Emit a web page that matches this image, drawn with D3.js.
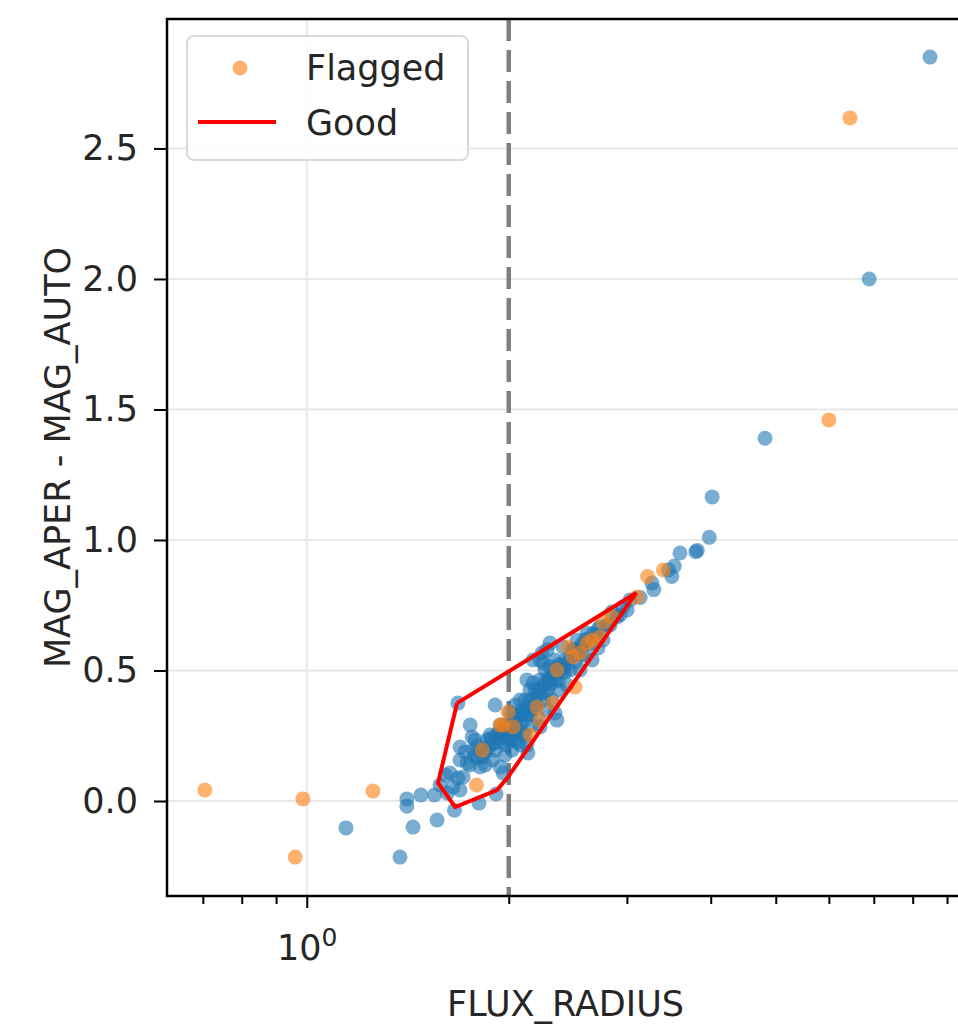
<!DOCTYPE html>
<html>
<head>
<meta charset="utf-8">
<script src="https://cdn.jsdelivr.net/npm/d3@7"></script>
<style>
  body { margin: 0; background: #fff; }
  svg text { font-family: "DejaVu Sans", sans-serif; fill: #262626; }
</style>
</head>
<body>
<div id="chartDiv"></div>
<script>
// FLUX_RADIUS, MAG_APER - MAG_AUTO for unflagged sources
var goodPoints = [
  [8.49,2.85],[6.89,2.00],[4.82,1.39],[4.02,1.165],[3.98,1.01],[3.82,0.96],[3.80,0.955],
  [3.60,0.95],[3.53,0.90],[3.46,0.885],[3.50,0.86],[3.27,0.835],[3.29,0.81],[3.14,0.78],
  [1.144,-0.103],[1.377,-0.215],[1.44,-0.10],[1.564,-0.073],[1.41,0.008],[1.41,-0.02],
  [1.48,0.023],[1.55,0.023],[1.62,0.03],[1.66,-0.035],[1.806,-0.008],[1.915,0.027],
  [1.58,0.061],[1.608,0.100],[1.635,0.107],[1.652,0.054],[1.692,0.042],[1.68,0.088],
  [1.71,0.092],[1.734,0.146],[1.692,0.157],[1.692,0.207],[1.68,0.375],[1.752,0.291],
  [1.764,0.245],[1.77,0.195],[1.801,0.165],[1.813,0.130],[1.845,0.188],[1.857,0.234],
  [1.876,0.215],[1.889,0.157],[1.909,0.195],[1.909,0.368],[1.922,0.253],[1.942,0.130],
  [1.942,0.226],[1.962,0.261],[1.962,0.107],[1.975,0.176],[1.982,0.215],
  [2.009,0.284],[2.009,0.234],[2.023,0.195],[2.03,0.253],[2.044,0.310],[2.058,0.322],
  [2.065,0.226],[2.079,0.272],[2.093,0.349],[2.10,0.261],[2.115,0.387],[2.115,0.310],
  [2.129,0.464],[2.129,0.215],[2.136,0.184],[2.151,0.330],[2.151,0.425],[2.166,0.291],
  [2.174,0.452],[2.174,0.540],[2.189,0.368],[2.204,0.406],[2.212,0.318],[2.227,0.540],
  [2.227,0.464],[2.227,0.284],[2.242,0.567],[2.25,0.529],[2.25,0.387],[2.265,0.452],
  [2.281,0.579],[2.281,0.349],[2.289,0.425],[2.304,0.605],[2.304,0.513],[2.32,0.387],
  [2.344,0.337],[2.344,0.464],[2.36,0.310],[2.369,0.521],[2.385,0.425],
  [2.401,0.494],[2.41,0.590],[2.426,0.540],[2.443,0.444],[2.468,0.502],[2.485,0.579],
  [2.511,0.533],[2.528,0.617],[2.555,0.502],[2.572,0.586],[2.598,0.559],[2.617,0.644],
  [2.644,0.605],[2.662,0.540],[2.689,0.636],[2.717,0.586],[2.736,0.667],[2.764,0.617],
  [2.802,0.674],[2.831,0.674],[2.85,0.724],[2.90,0.705],[2.93,0.713],[2.961,0.743],
  [3.002,0.732],[3.032,0.770],
  [2.044,0.368],[2.079,0.330],[1.975,0.291],[1.813,0.195],[1.876,0.253],[1.942,0.291],
  [2.009,0.341],[2.079,0.387],[2.151,0.387],[2.189,0.425],[2.265,0.502],[2.304,0.464],
  [2.344,0.540],[2.385,0.502],[2.426,0.494],[2.511,0.579],[2.555,0.559],[2.598,0.617],
  [2.079,0.215],[2.115,0.253],[2.044,0.234],[1.845,0.138],[1.752,0.138],[1.782,0.234],
  [1.722,0.188],
  [1.78,0.17],[1.80,0.21],[1.83,0.17],[1.86,0.20],[1.88,0.24],[1.90,0.22],[1.93,0.26],
  [1.95,0.24],[1.97,0.27],[1.99,0.26],[2.01,0.30],[2.03,0.29],[2.05,0.27],[2.06,0.33],
  [2.08,0.30],[2.10,0.34],[2.12,0.33],[2.14,0.36],[2.16,0.35],[2.18,0.39],[2.20,0.37],
  [2.21,0.43],[2.23,0.41],[2.25,0.44],[2.27,0.42],[2.29,0.47],[2.31,0.45],[2.33,0.49],
  [2.35,0.48],[2.37,0.46],[2.39,0.52],[2.42,0.51],[2.45,0.53],[2.47,0.55],[2.50,0.56],
  [2.53,0.58],[2.57,0.60],[2.62,0.62],[2.67,0.64],[2.72,0.66]
];

var flaggedPoints = [
  [6.45,2.617],[6.0,1.46],[0.705,0.042],[0.987,0.008],[0.961,-0.215],[1.255,0.038],
  [1.79,0.061],[1.826,0.195],[1.962,0.291],[1.995,0.341],[2.03,0.284],[1.942,0.291],
  [2.151,0.253],[2.204,0.360],[2.328,0.375],[2.227,0.310],[2.36,0.502],[2.452,0.590],
  [2.494,0.552],[2.617,0.605],[2.662,0.617],[2.736,0.628],[2.764,0.686],[2.85,0.705],
  [2.555,0.567],[2.511,0.437],[3.105,0.782],[3.22,0.86],[3.40,0.885]
];

// "Good" selection region
var goodHull = [
  [1.675,0.375],[1.569,0.069],[1.664,-0.023],[1.921,0.042],[1.995,0.092],[3.097,0.797],[1.675,0.375]
];

var yTicks = [0.0, 0.5, 1.0, 1.5, 2.0, 2.5];
var xMajor = [1];
var xMinor = [0.7, 0.8, 0.9, 2, 3, 4, 5, 6, 7, 8, 9];
var radiusCut = 2;

var W = 958, H = 1027;
var pLeft = 167, pTop = 19, pRight = 964, pBottom = 896;

var x = d3.scaleLog().domain([0.619, 9.54]).range([pLeft, pRight]);
var y = d3.scaleLinear().domain([-0.364, 2.996]).range([pBottom, pTop]);

var svg = d3.select("#chartDiv").append("svg")
  .attr("width", W).attr("height", H);

svg.append("defs").append("clipPath").attr("id", "plotClip")
  .append("rect").attr("x", pLeft).attr("y", pTop)
  .attr("width", pRight - pLeft).attr("height", pBottom - pTop);

var plot = svg.append("g").attr("clip-path", "url(#plotClip)");

// grid
plot.selectAll(".hgrid").data(yTicks).enter().append("line")
  .attr("x1", pLeft).attr("x2", pRight)
  .attr("y1", function(d) { return y(d); }).attr("y2", function(d) { return y(d); })
  .attr("stroke", "#e8e8e8").attr("stroke-width", 2);
plot.selectAll(".vgrid").data(xMajor).enter().append("line")
  .attr("y1", pTop).attr("y2", pBottom)
  .attr("x1", function(d) { return x(d); }).attr("x2", function(d) { return x(d); })
  .attr("stroke", "#e8e8e8").attr("stroke-width", 2);

// dashed cut
plot.append("line")
  .attr("x1", x(radiusCut)).attr("x2", x(radiusCut))
  .attr("y1", pTop).attr("y2", pBottom)
  .attr("stroke", "#808080").attr("stroke-width", 4.5)
  .attr("stroke-dasharray", "22,9");

plot.selectAll(".good").data(goodPoints).enter().append("circle")
  .attr("cx", function(d) { return x(d[0]); })
  .attr("cy", function(d) { return y(d[1]); })
  .attr("r", 7.5).attr("fill", "#1f77b4").attr("fill-opacity", 0.6);

plot.selectAll(".flag").data(flaggedPoints).enter().append("circle")
  .attr("cx", function(d) { return x(d[0]); })
  .attr("cy", function(d) { return y(d[1]); })
  .attr("r", 7.5).attr("fill", "#ff7f0e").attr("fill-opacity", 0.6);

plot.append("path")
  .attr("d", d3.line().x(function(d) { return x(d[0]); }).y(function(d) { return y(d[1]); })(goodHull))
  .attr("fill", "none").attr("stroke", "#ff0000").attr("stroke-width", 4)
  .attr("stroke-linejoin", "miter");

// axes
var yAxis = svg.append("g").attr("transform", "translate(" + pLeft + ",0)")
  .call(d3.axisLeft(y).tickValues(yTicks).tickSize(13).tickPadding(16).tickFormat(d3.format(".1f")));
yAxis.select(".domain").remove();
yAxis.selectAll(".tick line").attr("stroke", "#000").attr("stroke-width", 2);
yAxis.selectAll(".tick text").attr("font-size", 35).attr("font-family", "DejaVu Sans").attr("fill", "#262626");

var xAxisMinor = svg.append("g").attr("transform", "translate(0," + pBottom + ")")
  .call(d3.axisBottom(x).tickValues(xMinor).tickSize(8).tickFormat(""));
xAxisMinor.select(".domain").remove();
xAxisMinor.selectAll(".tick line").attr("stroke", "#000").attr("stroke-width", 2);

var xAxis = svg.append("g").attr("transform", "translate(0," + pBottom + ")")
  .call(d3.axisBottom(x).tickValues(xMajor).tickSize(12).tickFormat(""));
xAxis.select(".domain").remove();
xAxis.selectAll(".tick line").attr("stroke", "#000").attr("stroke-width", 2);
xAxis.selectAll(".tick").append("text")
  .attr("y", 64).attr("text-anchor", "middle")
  .attr("font-size", 35).attr("font-family", "DejaVu Sans").attr("fill", "#262626")
  .call(function(t) {
    t.append("tspan").text("10");
    t.append("tspan").attr("dy", -14).attr("font-size", 25).text("0");
  });

// spines
svg.append("path")
  .attr("d", "M" + pRight + "," + pTop + "H" + pLeft + "V" + pBottom + "H" + pRight)
  .attr("fill", "none").attr("stroke", "#000").attr("stroke-width", 2.5);

// axis labels
svg.append("text").attr("x", (pLeft + pRight) / 2).attr("y", 1016)
  .attr("text-anchor", "middle").attr("font-size", 35).text("FLUX_RADIUS");
svg.append("text").attr("transform", "translate(70," + (pTop + pBottom) / 2 + ") rotate(-90)")
  .attr("text-anchor", "middle").attr("font-size", 35).text("MAG_APER - MAG_AUTO");

// legend
var lg = svg.append("g");
lg.append("rect").attr("x", 187).attr("y", 36).attr("width", 281).attr("height", 124)
  .attr("rx", 7).attr("fill", "#fff").attr("fill-opacity", 0.8)
  .attr("stroke", "#d9d9d9").attr("stroke-width", 2);
lg.append("circle").attr("cx", 240).attr("cy", 68).attr("r", 7.5)
  .attr("fill", "#ff7f0e").attr("fill-opacity", 0.6);
lg.append("line").attr("x1", 198).attr("x2", 276).attr("y1", 122).attr("y2", 122)
  .attr("stroke", "#ff0000").attr("stroke-width", 4);
lg.append("text").attr("x", 306).attr("y", 80).attr("font-size", 35).text("Flagged");
lg.append("text").attr("x", 306).attr("y", 135).attr("font-size", 35).text("Good");
</script>
</body>
</html>
